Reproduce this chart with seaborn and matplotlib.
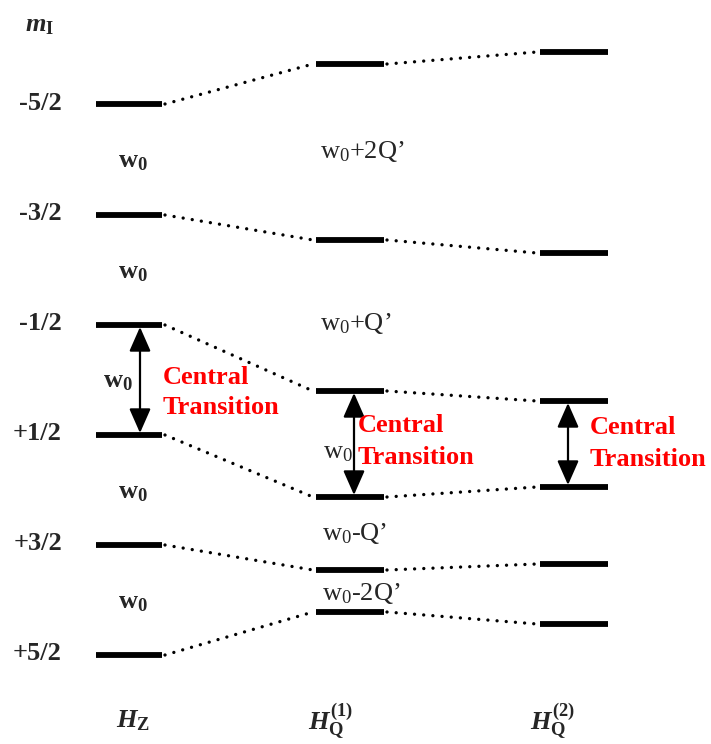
import matplotlib
matplotlib.use("Agg")
import matplotlib.pyplot as plt
import seaborn as sns
import pandas as pd
from matplotlib.patches import FancyArrowPatch

# ---------------- data (vertical positions of the levels) ----
m_labels = ["-5/2", "-3/2", "-1/2", "+1/2", "+3/2", "+5/2"]
columns = ["H_Z", "H_Q1", "H_Q2"]
levels_HZ = [104, 215, 325, 435, 545, 655]
levels_HQ1 = [64, 240, 391, 497, 570, 612]
levels_HQ2 = [52, 253, 401, 487, 564, 624]
col_titles = [r"$H_{\mathbf{Z}}$", r"$H_{\mathbf{Q}}^{\mathbf{(1)}}$", r"$H_{\mathbf{Q}}^{\mathbf{(2)}}$"]
hq1_labels = [r"w$_{\mathrm{0}}$+2Q’", r"w$_{\mathrm{0}}$+Q’", r"w$_{\mathrm{0}}$",
              r"w$_{\mathrm{0}}$-Q’", r"w$_{\mathrm{0}}$-2Q’"]
ct_lines = ["Central", "Transition"]

# ---------------- layout ----------------
col_x = {"H_Z": (96, 162), "H_Q1": (316, 384), "H_Q2": (540, 608)}
levels = {"H_Z": levels_HZ, "H_Q1": levels_HQ1, "H_Q2": levels_HQ2}

sns.set_theme(style="white")
plt.rcParams["font.family"] = ["Liberation Serif", "DejaVu Serif"]
plt.rcParams["mathtext.fontset"] = "custom"
plt.rcParams["mathtext.rm"] = "Liberation Serif"
plt.rcParams["mathtext.it"] = "Liberation Serif:italic:bold"
plt.rcParams["mathtext.bf"] = "Liberation Serif:bold"

fig = plt.figure(figsize=(7.11, 7.44), dpi=100)
ax = fig.add_axes([0, 0, 1, 1])

# level segments
rows = []
for c in columns:
    x0, x1 = col_x[c]
    for i, y in enumerate(levels[c]):
        rows.append({"x": x0, "y": y, "seg": f"{c}-{i}"})
        rows.append({"x": x1, "y": y, "seg": f"{c}-{i}"})
lv = pd.DataFrame(rows)
sns.lineplot(data=lv, x="x", y="y", units="seg", estimator=None, sort=False,
             color="black", linewidth=4.2, solid_capstyle="butt", ax=ax)

# dotted connectors
rows = []
for a, b in [("H_Z", "H_Q1"), ("H_Q1", "H_Q2")]:
    for i in range(len(m_labels)):
        rows.append({"x": col_x[a][1] + 3, "y": levels[a][i], "seg": f"{a}{b}{i}"})
        rows.append({"x": col_x[b][0] - 3, "y": levels[b][i], "seg": f"{a}{b}{i}"})
cn = pd.DataFrame(rows)
sns.lineplot(data=cn, x="x", y="y", units="seg", estimator=None, sort=False,
             color="black", linewidth=2.4, linestyle=(0, (0.01, 2.75)),
             dash_capstyle="round", ax=ax)

ax.set_xlim(0, 711)
ax.set_ylim(744, 0)
ax.axis("off")

FS = 19
# m_I labels
ax.text(25, 26, r"$m_{\mathbf{I}}$", fontsize=FS, ha="left", va="center")
for lab, y in zip(m_labels, levels_HZ):
    ax.text(62, y - 1, lab, fontsize=FS, fontweight="bold", ha="right", va="center")

# bold w0 between HZ levels
w0b = r"$\mathbf{w}_{\mathbf{0}}$"
for i in [0, 1, 3, 4]:
    ym = (levels_HZ[i] + levels_HZ[i + 1]) / 2
    ax.text(133, ym + 3, w0b, fontsize=FS, ha="center", va="center")
ax.text(118, (levels_HZ[2] + levels_HZ[3]) / 2 + 2, w0b, fontsize=FS, ha="center", va="center")

# HQ1 regular labels
hq1_pos = [(320, 151), (320, 323), (323, 453), (322, 534), (322, 594)]
for lab, (x, y) in zip(hq1_labels, hq1_pos):
    ax.text(x, y, lab, fontsize=FS, ha="left", va="center")

# double arrows for central transitions
arrow_x = {"H_Z": 140, "H_Q1": 354, "H_Q2": 568}
for c in columns:
    y0, y1 = levels[c][2], levels[c][3]
    ar = FancyArrowPatch((arrow_x[c], y0 + 2), (arrow_x[c], y1 - 2),
                         arrowstyle="<|-|>,head_length=0.75,head_width=0.33",
                         mutation_scale=20, lw=1.6, color="black",
                         shrinkA=0, shrinkB=0)
    ax.add_patch(ar)

# red central transition labels (two lines each)
ct_pos = [(163, 377), (358, 426), (590, 428)]
line_gap = 31
for x, y in ct_pos:
    for k, t in enumerate(ct_lines):
        ax.text(x, y + k * line_gap, t, fontsize=FS, fontweight="bold",
                color="#ff0000", ha="left", va="center")

# column titles
for t, x in zip(col_titles, [133, 331, 553]):
    ax.text(x, 721, t, fontsize=FS, ha="center", va="center")

fig.savefig("out.png", dpi=100)
